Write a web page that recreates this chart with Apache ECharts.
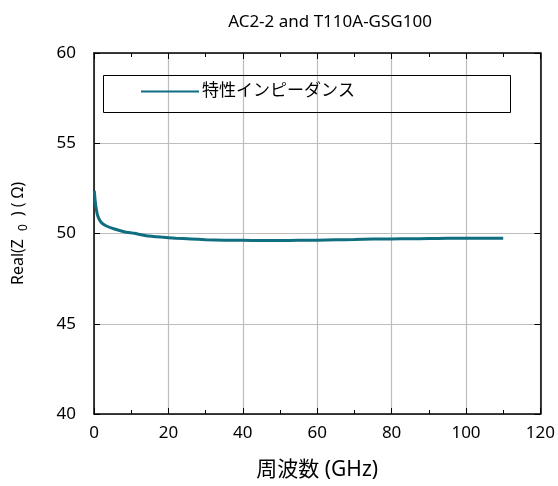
<!DOCTYPE html>
<html>
<head>
<meta charset="utf-8">
<script src="https://cdn.jsdelivr.net/npm/echarts@6.0.0/dist/echarts.min.js"></script>
<style>
  html, body { margin: 0; padding: 0; background: #fff; }
  #root { width: 558px; height: 486px; }
</style>
</head>
<body>
<div id="root"></div>
<script>
  // frequency (GHz) and Real(Z0) (ohm)
  const freqs = [0.1, 0.27, 0.55, 1.0, 1.9, 3.2, 5.5, 8.1, 10.8, 14, 18, 22, 26, 30, 35, 40, 45, 50, 55, 60, 65, 70, 75, 80, 85, 90, 95, 100, 105, 110];
  const realZ0 = [52.36, 51.9, 51.44, 50.98, 50.62, 50.43, 50.25, 50.1, 50.01, 49.88, 49.8, 49.74, 49.7, 49.66, 49.63, 49.62, 49.61, 49.61, 49.62, 49.63, 49.65, 49.67, 49.69, 49.7, 49.71, 49.72, 49.73, 49.73, 49.74, 49.74];
  const seriesName = '特性インピーダンス';
  const titleText = 'AC2-2 and T110A-GSG100';

  const font = '"Noto Sans", "Noto Sans CJK JP", sans-serif';
  const chart = echarts.init(document.getElementById('root'));

  const xBase = {
    type: 'value', min: 0, max: 120, interval: 20,
    axisLine: { show: true, onZero: false, lineStyle: { color: '#000', width: 1.5 } },
    axisTick: { show: true, inside: true, length: 6, lineStyle: { color: '#000' } },
    minorTick: { show: true, splitNumber: 2, length: 4, lineStyle: { color: '#000' } },
    splitLine: { show: false }
  };
  const yBase = {
    type: 'value', min: 40, max: 60, interval: 5,
    axisLine: { show: true, onZero: false, lineStyle: { color: '#000', width: 1.5 } },
    axisTick: { show: true, inside: true, length: 6, lineStyle: { color: '#000' } },
    splitLine: { show: false }
  };

  chart.setOption({
    animation: false,
    title: {
      text: titleText, left: 325, top: 9, textAlign: 'center',
      textStyle: { fontFamily: font, fontSize: 17, fontWeight: 'normal', color: '#000' }
    },
    grid: { left: 94, right: 15, top: 53, bottom: 70 },
    legend: {
      data: [seriesName], left: 136, top: 78,
      itemWidth: 58, itemHeight: 20, itemGap: 0,
      icon: 'path://M0,8L58,8L58,10L0,10Z',
      textStyle: { fontFamily: font, fontSize: 17, color: '#000', padding: [0, 0, 0, -2] }
    },
    graphic: [{
      type: 'rect', left: 101, top: 73, z: 5,
      shape: { width: 407, height: 37 },
      style: { fill: 'none', stroke: '#000', lineWidth: 1 }
    }],
    xAxis: [
      Object.assign({}, xBase, {
        position: 'bottom',
        axisLabel: { fontFamily: font, fontSize: 17, color: '#000', margin: 11 },
        splitLine: { show: true, lineStyle: { color: '#bdbdbd', width: 1.2 } },
        name: '周波数 (GHz)', nameLocation: 'middle', nameGap: 46,
        nameTextStyle: { fontFamily: font, fontSize: 21, color: '#000' }
      }),
      Object.assign({}, xBase, { position: 'top', axisLabel: { show: false } })
    ],
    yAxis: [
      Object.assign({}, yBase, {
        position: 'left',
        axisLabel: { fontFamily: font, fontSize: 17, color: '#000', margin: 18 },
        splitLine: { show: true, lineStyle: { color: '#bdbdbd', width: 1.2 } },
        name: '{a|Real(Z}{s|0}{a|) ( Ω)}', nameLocation: 'middle', nameGap: 64,
        nameTextStyle: {
          fontFamily: font, fontSize: 16, color: '#000',
          rich: {
            a: { fontFamily: font, fontSize: 16, color: '#000' },
            s: { fontFamily: font, fontSize: 12, color: '#000', padding: [12, 8, 0, 8] }
          }
        }
      }),
      Object.assign({}, yBase, { position: 'right', axisLabel: { show: false } })
    ],
    series: [{
      name: seriesName,
      type: 'line',
      xAxisIndex: 0, yAxisIndex: 0,
      data: freqs.map((f, i) => [f, realZ0[i]]),
      showSymbol: false,
      smooth: 0.2,
      lineStyle: { color: '#0f6e80', width: 3 },
      itemStyle: { color: '#0f6e80' }
    }]
  });
</script>
</body>
</html>
